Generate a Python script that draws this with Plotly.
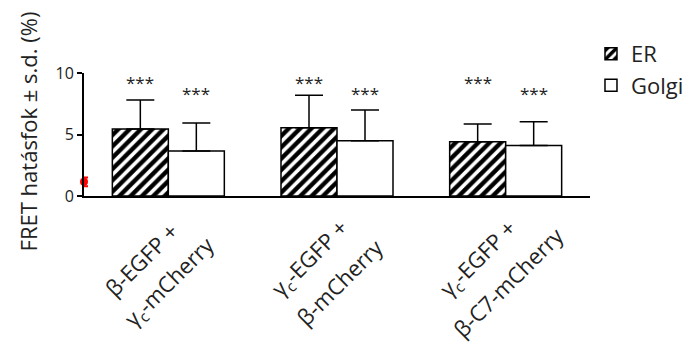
import plotly.graph_objects as go

cat_line1 = ["β-EGFP +", "γ<sub>c</sub>-EGFP +", "γ<sub>c</sub>-EGFP +"]
cat_line2 = ["γ<sub>c</sub>-mCherry", "β-mCherry", "β-C7-mCherry"]
er_mean = [5.45, 5.55, 4.42]
er_sd = [2.35, 2.65, 1.43]
golgi_mean = [3.66, 4.5, 4.1]
golgi_sd = [2.27, 2.5, 1.94]
er_sig = ["***", "***", "***"]
golgi_sig = ["***", "***", "***"]
er_sig_y = [9.2, 9.2, 9.2]
golgi_sig_y = [8.35, 8.35, 8.35]
control_mean = [1.15]
control_sd = [0.35]
tick_vals = [0, 5, 10]

FONT = "Open Sans"
TXT = "#222222"
xpos = list(range(len(cat_line1)))
W = 0.332

fig = go.Figure()
fig.add_trace(go.Bar(
    name="ER", x=xpos, y=er_mean, width=W, offset=-W,
    marker=dict(color="white", line=dict(color="black", width=1.5),
                pattern=dict(shape="/", fgcolor="black", bgcolor="white", fgopacity=1,
                             size=8, solidity=0.55)),
    error_y=dict(type="data", array=er_sd, arrayminus=[0]*3, symmetric=False,
                 color="black", thickness=1.5, width=14),
))
fig.add_trace(go.Bar(
    name="Golgi", x=xpos, y=golgi_mean, width=W, offset=0,
    marker=dict(color="white", line=dict(color="black", width=1.5)),
    error_y=dict(type="data", array=golgi_sd, arrayminus=[0]*3, symmetric=False,
                 color="black", thickness=1.5, width=14),
))
fig.add_trace(go.Scatter(
    x=[-0.5], y=control_mean, mode="markers", showlegend=False,
    marker=dict(color="red", size=8, symbol="circle"),
    error_y=dict(type="data", array=control_sd, color="red", thickness=2, width=4),
    cliponaxis=False,
))

for i in xpos:
    fig.add_annotation(x=i - W / 2, y=er_sig_y[i], text=er_sig[i], showarrow=False,
                       font=dict(family=FONT, size=17, color=TXT), yanchor="middle")
    fig.add_annotation(x=i + W / 2, y=golgi_sig_y[i], text=golgi_sig[i], showarrow=False,
                       font=dict(family=FONT, size=17, color=TXT), yanchor="middle")
    fig.add_annotation(x=i, xref="x", y=0, yref="paper", text=cat_line1[i], textangle=-45,
                       showarrow=False, xanchor="center", yanchor="middle",
                       xshift=-27, yshift=-63,
                       font=dict(family=FONT, size=22, color=TXT))
    fig.add_annotation(x=i, xref="x", y=0, yref="paper", text=cat_line2[i], textangle=-45,
                       showarrow=False, xanchor="center", yanchor="middle",
                       xshift=2, yshift=-86,
                       font=dict(family=FONT, size=22, color=TXT))

fig.add_annotation(xref="paper", yref="paper", x=-0.111, y=0.524,
                   text="FRET hatásfok ± s.d. (%)", textangle=-90, showarrow=False,
                   font=dict(family=FONT, size=22, color=TXT), xanchor="center", yanchor="middle")

# page body has an 8px default margin, so the figure is 8px smaller than the window
fig.update_layout(
    width=687, height=341,
    margin=dict(l=76, r=105, t=65, b=153, autoexpand=False),
    plot_bgcolor="white", paper_bgcolor="white",
    showlegend=True,
    legend=dict(xref="container", yref="container", x=0.8486, y=0.927,
                xanchor="left", yanchor="top",
                font=dict(family=FONT, size=22, color=TXT), bgcolor="rgba(0,0,0,0)"),
    font=dict(family=FONT, color=TXT),
)
fig.update_xaxes(range=[-0.5, 2.5], tickvals=xpos, showticklabels=False, automargin=False,
                 showline=True, linecolor="black", linewidth=1.5, ticks="",
                 showgrid=False, zeroline=False)
fig.update_yaxes(range=[0, 10], tickvals=tick_vals, showline=True, linecolor="black",
                 automargin=False,
                 linewidth=2, ticks="outside", ticklen=5, tickwidth=1.5, tickcolor="black",
                 showgrid=False, zeroline=False,
                 tickfont=dict(family=FONT, size=16, color=TXT))

fig.write_html("out.html")
